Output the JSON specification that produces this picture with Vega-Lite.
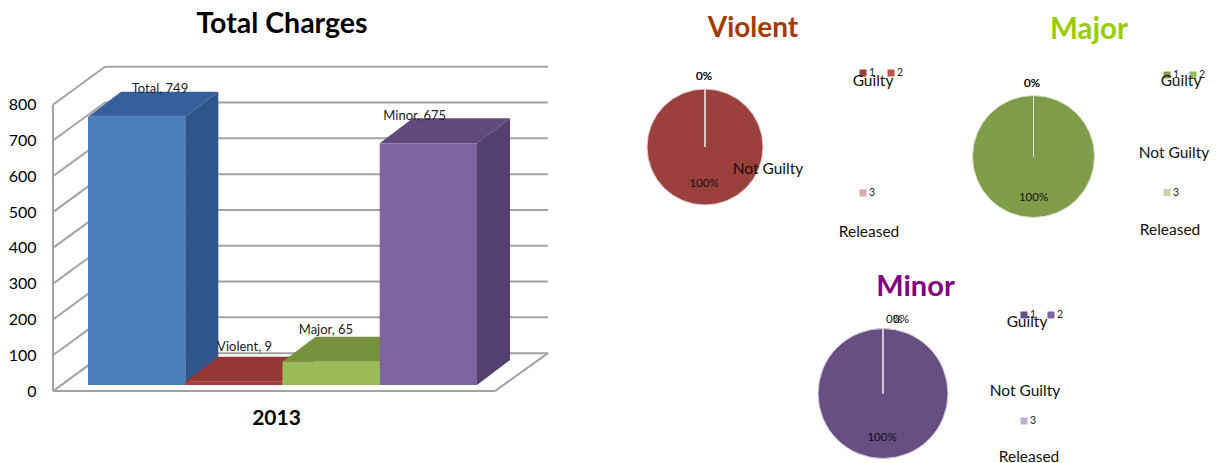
{
"$schema":"https://vega.github.io/schema/vega-lite/v6.json",
"padding":{"top":9,"left":0,"right":0,"bottom":0},
"background":"white",
"spacing":0,
"resolve":{"scale":{"color":"independent"}},
"config":{"view":{"stroke":null},"concat":{"spacing":0},"font":"Lato","text":{"font":"Lato"}},
"datasets":{
"bars":[{"category":"Total","slot":0,"slotEnd":1,"value":749},{"category":"Violent","slot":1,"slotEnd":2,"value":9},{"category":"Major","slot":2,"slotEnd":3,"value":65},{"category":"Minor","slot":3,"slotEnd":4,"value":675}],
"sides":[{"category":"Total","at":1,"low":0,"high":749},{"category":"Total","at":1.34,"low":70,"high":819},{"category":"Violent","at":2,"low":0,"high":9},{"category":"Violent","at":2.34,"low":70,"high":79},{"category":"Major","at":3,"low":0,"high":65},{"category":"Major","at":3.34,"low":70,"high":135},{"category":"Minor","at":4,"low":0,"high":675},{"category":"Minor","at":4.34,"low":70,"high":745}],
"tops":[{"category":"Total","level":749,"from":0,"to":1},{"category":"Total","level":819,"from":0.34,"to":1.34},{"category":"Violent","level":9,"from":1,"to":2},{"category":"Violent","level":79,"from":1.34,"to":2.34},{"category":"Major","level":65,"from":2,"to":3},{"category":"Major","level":135,"from":2.34,"to":3.34},{"category":"Minor","level":675,"from":3,"to":4},{"category":"Minor","level":745,"from":3.34,"to":4.34}],
"wall":[
{"a":-0.36,"b":0.175,"c":-17,"d":89},{"a":-0.36,"b":0.175,"c":83,"d":189},{"a":-0.36,"b":0.175,"c":183,"d":289},{"a":-0.36,"b":0.175,"c":283,"d":389},{"a":-0.36,"b":0.175,"c":383,"d":489},{"a":-0.36,"b":0.175,"c":483,"d":589},{"a":-0.36,"b":0.175,"c":583,"d":689},{"a":-0.36,"b":0.175,"c":683,"d":789},{"a":-0.36,"b":0.175,"c":783,"d":889},
{"a":0.175,"b":4.73,"c":89,"d":89},{"a":0.175,"b":4.73,"c":189,"d":189},{"a":0.175,"b":4.73,"c":289,"d":289},{"a":0.175,"b":4.73,"c":389,"d":389},{"a":0.175,"b":4.73,"c":489,"d":489},{"a":0.175,"b":4.73,"c":589,"d":589},{"a":0.175,"b":4.73,"c":689,"d":689},{"a":0.175,"b":4.73,"c":789,"d":789},{"a":0.175,"b":4.73,"c":889,"d":889},
{"a":-0.36,"b":-0.36,"c":-17,"d":783},{"a":-0.36,"b":4.185,"c":-17,"d":-17},{"a":4.185,"b":4.73,"c":-17,"d":89}],
"barLabels":[{"label":"Total, 749","across":0.74,"up":827},{"label":"Violent, 9","across":1.61,"up":106},{"label":"Major, 65","across":2.447,"up":154},{"label":"Minor, 675","across":3.36,"up":751}],
"counts":[{"chart":"Violent","status":"Guilty","count":9},{"chart":"Violent","status":"Not Guilty","count":0},{"chart":"Violent","status":"Released","count":0},{"chart":"Major","status":"Guilty","count":65},{"chart":"Major","status":"Not Guilty","count":0},{"chart":"Major","status":"Released","count":0},{"chart":"Minor","status":"Guilty","count":675},{"chart":"Minor","status":"Not Guilty","count":0},{"chart":"Minor","status":"Released","count":0}],
"keys":[{"chart":"Violent","status":"Guilty","n":"1","across":158,"down":-74},{"chart":"Violent","status":"Not Guilty","n":"2","across":186,"down":-74},{"chart":"Violent","status":"Released","n":"3","across":158,"down":46},
{"chart":"Major","status":"Guilty","n":"1","across":133.5,"down":-81.5},{"chart":"Major","status":"Not Guilty","n":"2","across":159.5,"down":-81.5},{"chart":"Major","status":"Released","n":"3","across":133.5,"down":36},
{"chart":"Minor","status":"Guilty","n":"1","across":141,"down":-78.5},{"chart":"Minor","status":"Not Guilty","n":"2","across":168,"down":-78.5},{"chart":"Minor","status":"Released","n":"3","across":141,"down":27.5}],
"captions":[{"chart":"Violent","text":"Guilty","across":168,"down":-66},{"chart":"Violent","text":"Not Guilty","across":63,"down":22},{"chart":"Violent","text":"Released","across":164,"down":85},
{"chart":"Major","text":"Guilty","across":147.5,"down":-75.5},{"chart":"Major","text":"Not Guilty","across":140.5,"down":-3.5},{"chart":"Major","text":"Released","across":136.5,"down":73.5},
{"chart":"Minor","text":"Guilty","across":144,"down":-71.5},{"chart":"Minor","text":"Not Guilty","across":142,"down":-2.5},{"chart":"Minor","text":"Released","across":146,"down":63.5}],
"percents":[{"chart":"Violent","text":"100%","across":-1,"down":37},{"chart":"Violent","text":"0%","across":-1,"down":-70},{"chart":"Violent","text":"0%","across":-1,"down":-70},
{"chart":"Major","text":"100%","across":0,"down":41.5},{"chart":"Major","text":"0%","across":-1.5,"down":-72.5},{"chart":"Major","text":"0%","across":-1.5,"down":-72.5},
{"chart":"Minor","text":"100%","across":-1,"down":44.5},{"chart":"Minor","text":"0%","across":11,"down":-73.5},{"chart":"Minor","text":"0%","across":18,"down":-73.5}]
},
"hconcat":[
{"width":570,"height":350,
"title":{"text":"Total Charges","fontSize":28.5,"fontWeight":"bold","font":"Lato","color":"#000000","anchor":"middle","dx":-43,"offset":12},
"resolve":{"scale":{"color":"independent"}},
"layer":[
{"data":{"name":"wall"},"mark":{"type":"rule","color":"#A3A3A3","strokeWidth":2},
"encoding":{"x":{"field":"a","type":"quantitative","scale":{"domain":[-0.4936,5.368],"nice":false,"zero":false},"axis":{"labels":false,"ticks":false,"domain":false,"grid":false,"title":"2013","titleFontSize":21,"titleFontWeight":"bold","titleFont":"Lato","titleColor":"#000000","titleX":236,"titlePadding":7}},"x2":{"field":"b"},
"y":{"field":"c","type":"quantitative","scale":{"domain":[-41.9,935.8],"nice":false,"zero":false},"axis":{"values":[0,100,200,300,400,500,600,700,800],"title":null,"domain":false,"ticks":false,"grid":false,"labelFont":"Lato","labelFontSize":16,"labelColor":"#000000","labelPadding":4,"labelOffset":6,"minExtent":40}},"y2":{"field":"d"}}},
{"data":{"name":"sides"},"mark":{"type":"area"},
"encoding":{"x":{"field":"at","type":"quantitative"},"y":{"field":"low","type":"quantitative","stack":null},"y2":{"field":"high"},
"color":{"field":"category","type":"nominal","legend":null,"scale":{"domain":["Total","Violent","Major","Minor"],"range":["#30558A","#7F2F2D","#66802F","#55416F"]}}}},
{"data":{"name":"tops"},"mark":{"type":"area","orient":"horizontal"},
"encoding":{"y":{"field":"level","type":"quantitative"},"x":{"field":"from","type":"quantitative","stack":null},"x2":{"field":"to"},
"color":{"field":"category","type":"nominal","legend":null,"scale":{"domain":["Total","Violent","Major","Minor"],"range":["#36609A","#953735","#76923C","#604A7B"]}}}},
{"data":{"name":"bars"},"mark":{"type":"rect"},
"encoding":{"x":{"field":"slot","type":"quantitative"},"x2":{"field":"slotEnd"},"y":{"field":"value","type":"quantitative"},"y2":{"datum":0},
"color":{"field":"category","type":"nominal","legend":null,"scale":{"domain":["Total","Violent","Major","Minor"],"range":["#4A7EBB","#AA3C3A","#9BBB59","#8064A2"]}}}},
{"data":{"name":"barLabels"},"mark":{"type":"text","fontSize":13,"font":"Lato","color":"#222222"},
"encoding":{"x":{"field":"across","type":"quantitative"},"y":{"field":"up","type":"quantitative"},"text":{"field":"label"}}}
]},
{"spacing":8,"resolve":{"scale":{"color":"independent"}},"vconcat":[
{"spacing":0,"resolve":{"scale":{"color":"independent"}},"hconcat":[
{"width":320,"height":215,
"title":{"text":"Violent","fontSize":28,"fontWeight":"bold","font":"Lato","color":"#A33A00","anchor":"middle","dx":-17,"offset":7},
"layer":[
{"data":{"name":"counts"},"transform":[{"filter":"datum.chart==='Violent'"}],"mark":{"type":"arc","outerRadius":58,"stroke":"#E6CFCF","strokeWidth":1},
"encoding":{"x":{"datum":0,"type":"quantitative","axis":null,"scale":{"domain":[-95,225],"nice":false,"zero":false}},"y":{"datum":0,"type":"quantitative","axis":null,"scale":{"domain":[118,-97],"nice":false,"zero":false}},
"theta":{"field":"count","type":"quantitative"},"order":{"field":"status"},
"color":{"field":"status","type":"nominal","legend":null,"scale":{"domain":["Guilty","Not Guilty","Released"],"range":["#9C403E","#C0504D","#DCA9A8"]}}}},
{"data":{"name":"keys"},"transform":[{"filter":"datum.chart==='Violent'"}],"mark":{"type":"square","size":49,"opacity":1},
"encoding":{"x":{"field":"across","type":"quantitative"},"y":{"field":"down","type":"quantitative"},"color":{"field":"status","type":"nominal","legend":null}}},
{"data":{"name":"keys"},"transform":[{"filter":"datum.chart==='Violent'"}],"mark":{"type":"text","fontSize":10.5,"font":"Lato","align":"left","dx":6,"color":"#222222"},
"encoding":{"x":{"field":"across","type":"quantitative"},"y":{"field":"down","type":"quantitative"},"text":{"field":"n"}}},
{"data":{"name":"captions"},"transform":[{"filter":"datum.chart==='Violent'"}],"mark":{"type":"text","fontSize":15.5,"font":"Lato","color":"#111111"},
"encoding":{"x":{"field":"across","type":"quantitative"},"y":{"field":"down","type":"quantitative"},"text":{"field":"text"}}},
{"data":{"name":"percents"},"transform":[{"filter":"datum.chart==='Violent'"}],"mark":{"type":"text","fontSize":11.5,"font":"Lato","color":"#111111"},
"encoding":{"x":{"field":"across","type":"quantitative"},"y":{"field":"down","type":"quantitative"},"text":{"field":"text"}}}
]},
{"width":291,"height":215,
"title":{"text":"Major","fontSize":29.5,"fontWeight":"bold","font":"Lato","color":"#99CC00","anchor":"middle","dx":13.5,"offset":5},
"layer":[
{"data":{"name":"counts"},"transform":[{"filter":"datum.chart==='Major'"}],"mark":{"type":"arc","outerRadius":61,"stroke":"#DDE6CC","strokeWidth":1},
"encoding":{"x":{"datum":0,"type":"quantitative","axis":null,"scale":{"domain":[-103.5,187.5],"nice":false,"zero":false}},"y":{"datum":0,"type":"quantitative","axis":null,"scale":{"domain":[108.5,-106.5],"nice":false,"zero":false}},
"theta":{"field":"count","type":"quantitative"},"order":{"field":"status"},
"color":{"field":"status","type":"nominal","legend":null,"scale":{"domain":["Guilty","Not Guilty","Released"],"range":["#7F9C4B","#9BBB59","#C6D5AB"]}}}},
{"data":{"name":"keys"},"transform":[{"filter":"datum.chart==='Major'"}],"mark":{"type":"square","size":49,"opacity":1},
"encoding":{"x":{"field":"across","type":"quantitative"},"y":{"field":"down","type":"quantitative"},"color":{"field":"status","type":"nominal","legend":null}}},
{"data":{"name":"keys"},"transform":[{"filter":"datum.chart==='Major'"}],"mark":{"type":"text","fontSize":10.5,"font":"Lato","align":"left","dx":6,"color":"#222222"},
"encoding":{"x":{"field":"across","type":"quantitative"},"y":{"field":"down","type":"quantitative"},"text":{"field":"n"}}},
{"data":{"name":"captions"},"transform":[{"filter":"datum.chart==='Major'"}],"mark":{"type":"text","fontSize":15.5,"font":"Lato","color":"#111111"},
"encoding":{"x":{"field":"across","type":"quantitative"},"y":{"field":"down","type":"quantitative"},"text":{"field":"text"}}},
{"data":{"name":"percents"},"transform":[{"filter":"datum.chart==='Major'"}],"mark":{"type":"text","fontSize":11.5,"font":"Lato","color":"#111111"},
"encoding":{"x":{"field":"across","type":"quantitative"},"y":{"field":"down","type":"quantitative"},"text":{"field":"text"}}}
]}
]},
{"width":611,"height":163,
"title":{"text":"Minor","fontSize":29,"fontWeight":"bold","font":"Lato","color":"#800080","anchor":"middle","dx":0,"offset":0},
"layer":[
{"data":{"name":"counts"},"transform":[{"filter":"datum.chart==='Minor'"}],"mark":{"type":"arc","outerRadius":65,"stroke":"#D9D0E0","strokeWidth":1},
"encoding":{"x":{"datum":0,"type":"quantitative","axis":null,"scale":{"domain":[-273,338],"nice":false,"zero":false}},"y":{"datum":0,"type":"quantitative","axis":null,"scale":{"domain":[71.5,-91.5],"nice":false,"zero":false}},
"theta":{"field":"count","type":"quantitative"},"order":{"field":"status"},
"color":{"field":"status","type":"nominal","legend":null,"scale":{"domain":["Guilty","Not Guilty","Released"],"range":["#684F82","#8064A2","#BDB0CF"]}}}},
{"data":{"name":"keys"},"transform":[{"filter":"datum.chart==='Minor'"}],"mark":{"type":"square","size":49,"opacity":1},
"encoding":{"x":{"field":"across","type":"quantitative"},"y":{"field":"down","type":"quantitative"},"color":{"field":"status","type":"nominal","legend":null}}},
{"data":{"name":"keys"},"transform":[{"filter":"datum.chart==='Minor'"}],"mark":{"type":"text","fontSize":10.5,"font":"Lato","align":"left","dx":6,"color":"#222222"},
"encoding":{"x":{"field":"across","type":"quantitative"},"y":{"field":"down","type":"quantitative"},"text":{"field":"n"}}},
{"data":{"name":"captions"},"transform":[{"filter":"datum.chart==='Minor'"}],"mark":{"type":"text","fontSize":15.5,"font":"Lato","color":"#111111"},
"encoding":{"x":{"field":"across","type":"quantitative"},"y":{"field":"down","type":"quantitative"},"text":{"field":"text"}}},
{"data":{"name":"percents"},"transform":[{"filter":"datum.chart==='Minor'"}],"mark":{"type":"text","fontSize":11.5,"font":"Lato","color":"#111111"},
"encoding":{"x":{"field":"across","type":"quantitative"},"y":{"field":"down","type":"quantitative"},"text":{"field":"text"}}}
]}
]}
]
}
